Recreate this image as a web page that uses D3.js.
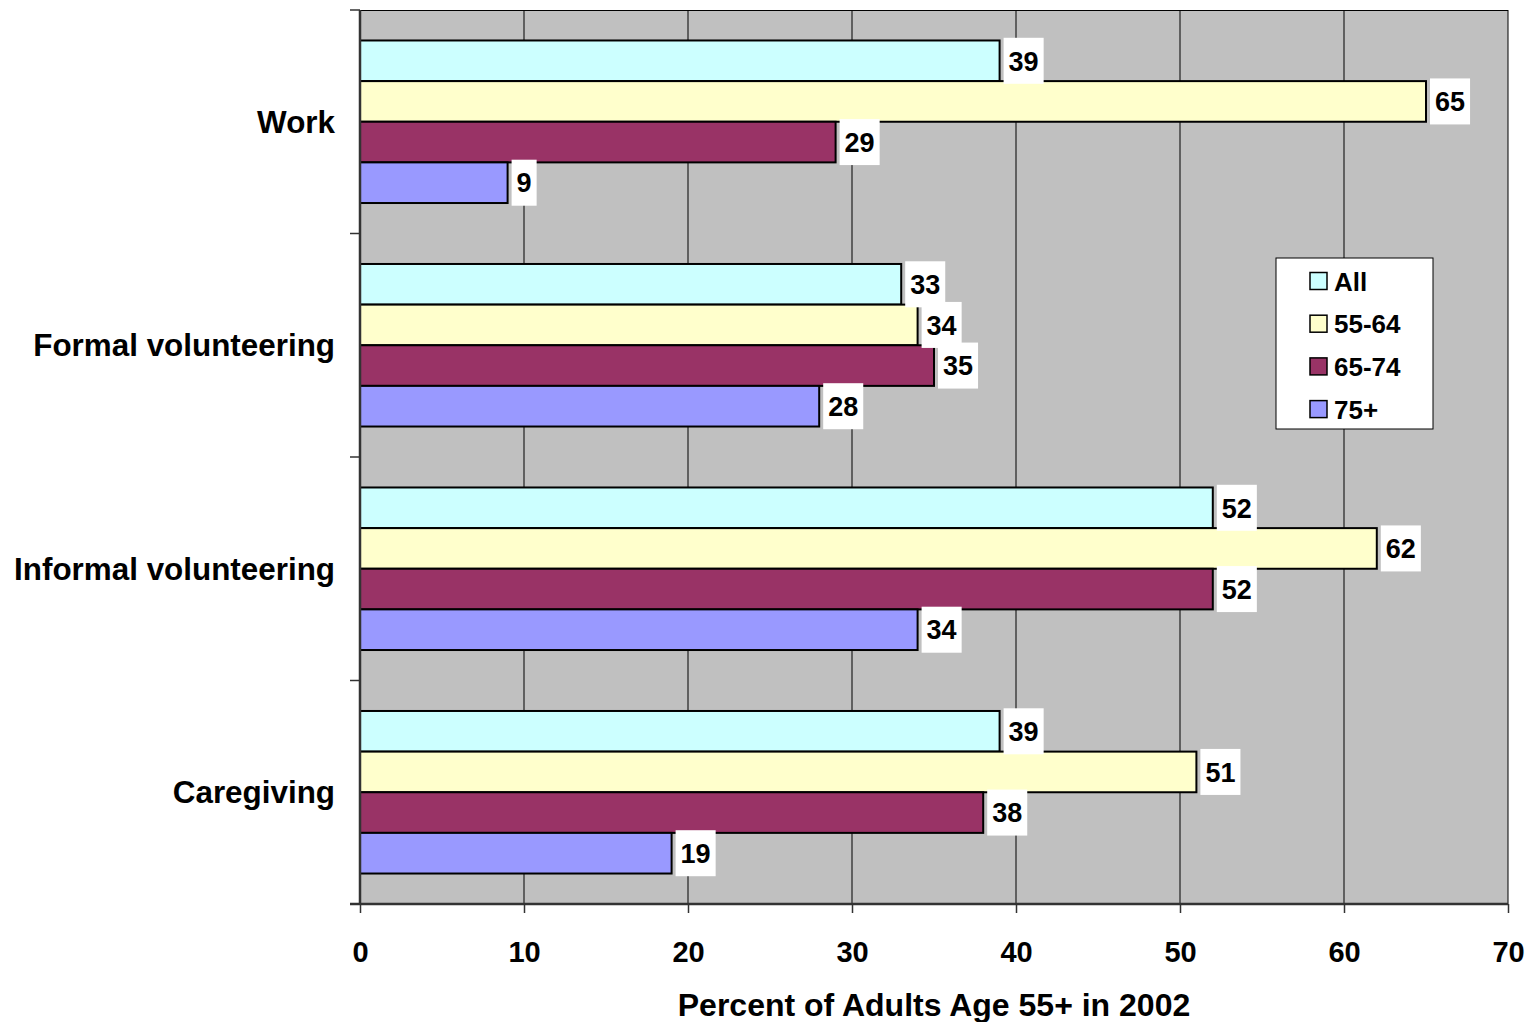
<!DOCTYPE html>
<html>
<head>
<meta charset="utf-8">
<script src="https://cdn.jsdelivr.net/npm/d3@7"></script>
<style>
  html, body { margin: 0; padding: 0; background: #ffffff; }
  svg { display: block; }
  text { font-family: "Liberation Sans", Arial, sans-serif; font-weight: bold; fill: #000; }
</style>
</head>
<body>
<svg id="chart" width="1535" height="1022"></svg>
<script>
// Activity categories (top to bottom) and age groups
const categories = ["Work", "Formal volunteering", "Informal volunteering", "Caregiving"];
const seriesNames = ["All", "55-64", "65-74", "75+"];

// Percent of adults in each age group, per activity
const allAges   = [39, 33, 52, 39];
const age55to64 = [65, 34, 62, 51];
const age65to74 = [29, 35, 52, 38];
const age75plus = [9, 28, 34, 19];

const xTicks = [0, 10, 20, 30, 40, 50, 60, 70];
const xTitle = "Percent of Adults Age 55+ in 2002";

const seriesValues = [allAges, age55to64, age65to74, age75plus];
const seriesColors = ["#CCFFFF", "#FFFFCC", "#993366", "#9999FF"];

const svg = d3.select("#chart");
const plot = { left: 360, right: 1508, top: 10, bottom: 904 };

const x = d3.scaleLinear().domain([0, 70]).range([plot.left, plot.right]);
const y = d3.scaleBand().domain(categories).range([plot.top, plot.bottom]).padding(0);
const ySub = d3.scaleBand().domain(seriesNames).range([0, y.bandwidth()])
  .paddingInner(0).paddingOuter(0.75);

// Plot background
svg.append("rect")
  .attr("x", plot.left).attr("y", plot.top)
  .attr("width", plot.right - plot.left).attr("height", plot.bottom - plot.top)
  .attr("fill", "#C0C0C0");

// Vertical gridlines
svg.append("g")
  .selectAll("line")
  .data(xTicks.slice(1))
  .join("line")
  .attr("x1", d => x(d)).attr("x2", d => x(d))
  .attr("y1", plot.top).attr("y2", plot.bottom)
  .attr("stroke", "#000").attr("stroke-width", 1);

// Top border of plot area
svg.append("line")
  .attr("x1", plot.left).attr("x2", plot.right)
  .attr("y1", plot.top + 0.5).attr("y2", plot.top + 0.5)
  .attr("stroke", "#000").attr("stroke-width", 1);

// Bars
const rows = [];
categories.forEach((c, ci) => {
  seriesNames.forEach((s, si) => {
    rows.push({ cat: c, series: s, value: seriesValues[si][ci], color: seriesColors[si] });
  });
});

svg.append("g")
  .selectAll("rect")
  .data(rows)
  .join("rect")
  .attr("x", x(0))
  .attr("y", d => y(d.cat) + ySub(d.series))
  .attr("width", d => x(d.value) - x(0))
  .attr("height", ySub.bandwidth())
  .attr("fill", d => d.color)
  .attr("stroke", "#000")
  .attr("stroke-width", 2);

// Bottom (value) axis
const xAxis = d3.axisBottom(x).tickValues(xTicks).tickSize(9).tickPadding(28).tickFormat(d3.format("d"));
const gx = svg.append("g")
  .attr("transform", `translate(0,${plot.bottom})`)
  .call(xAxis);
gx.select(".domain").attr("stroke", "#333").attr("stroke-width", 2.5)
  .attr("d", `M${plot.left - 10},0H${plot.right}`);
gx.selectAll(".tick line").attr("stroke", "#333").attr("stroke-width", 1.5);
gx.selectAll(".tick text")
  .attr("font-size", 29)
  .attr("font-family", '"Liberation Sans", Arial, sans-serif')
  .attr("font-weight", "bold")
  .attr("fill", "#000")
  .attr("dy", "0.71em");

// Left (category) axis line and boundary ticks
svg.append("line")
  .attr("x1", plot.left).attr("x2", plot.left)
  .attr("y1", plot.top).attr("y2", plot.bottom)
  .attr("stroke", "#333").attr("stroke-width", 2.5);
const boundaries = categories.map(c => y(c)).concat([plot.bottom]);
svg.append("g")
  .selectAll("line")
  .data(boundaries)
  .join("line")
  .attr("x1", plot.left - 10).attr("x2", plot.left)
  .attr("y1", d => d).attr("y2", d => d)
  .attr("stroke", "#333").attr("stroke-width", 1.5);

// Category labels
svg.append("g")
  .selectAll("text")
  .data(categories)
  .join("text")
  .attr("x", 335)
  .attr("y", d => y(d) + y.bandwidth() / 2 + 11)
  .attr("text-anchor", "end")
  .attr("font-size", 31.4)
  .text(d => d);

// Value labels on white boxes
const labelFs = 27;
const labels = svg.append("g")
  .selectAll("g")
  .data(rows)
  .join("g")
  .attr("transform", d => `translate(${x(d.value) + 4},${y(d.cat) + ySub(d.series) + ySub.bandwidth() / 2})`);
labels.append("rect").attr("fill", "#fff");
labels.append("text")
  .attr("x", 5)
  .attr("y", labelFs * 0.36)
  .attr("font-size", labelFs)
  .text(d => d.value);
labels.each(function () {
  const g = d3.select(this);
  const w = g.select("text").node().getComputedTextLength();
  g.select("rect").attr("x", 0).attr("y", -23).attr("width", w + 10).attr("height", 46);
});

// Legend
const legend = svg.append("g").attr("transform", "translate(1276,258)");
legend.append("rect")
  .attr("width", 157).attr("height", 171)
  .attr("fill", "#fff").attr("stroke", "#000").attr("stroke-width", 1);
const items = legend.selectAll("g")
  .data(seriesNames)
  .join("g")
  .attr("transform", (d, i) => `translate(0,${23 + i * 42.7})`);
items.append("rect")
  .attr("x", 34).attr("y", -8.5)
  .attr("width", 17).attr("height", 17)
  .attr("fill", (d, i) => seriesColors[i])
  .attr("stroke", "#000").attr("stroke-width", 1.5);
items.append("text")
  .attr("x", 58).attr("y", 9.5)
  .attr("font-size", 26)
  .text(d => d);

// Axis title
svg.append("text")
  .attr("x", (plot.left + plot.right) / 2)
  .attr("y", 1016)
  .attr("text-anchor", "middle")
  .attr("font-size", 32)
  .text(xTitle);
</script>
</body>
</html>
